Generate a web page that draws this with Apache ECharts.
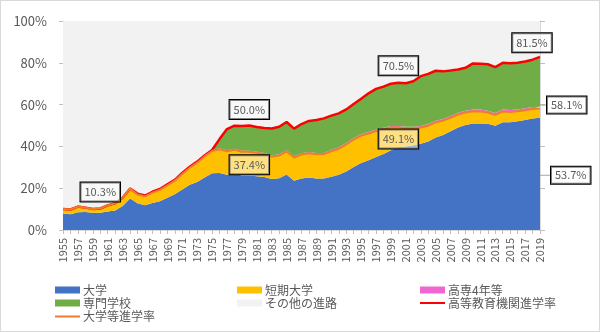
<!DOCTYPE html>
<html><head><meta charset="utf-8">
<script src="https://cdn.jsdelivr.net/npm/echarts@6/dist/echarts.min.js"></script>
<style>html,body{margin:0;padding:0;background:#fff}
#wrap{position:relative;width:600px;height:332px}
#c{width:600px;height:332px}
#frame{position:absolute;left:0;top:0;width:600px;height:332px;box-sizing:border-box;border:1px solid #D9D9D9;pointer-events:none}
</style>
</head><body><div id="wrap"><div id="c"></div><div id="frame"></div></div>
<script>
const years = ['1955','1956','1957','1958','1959','1960','1961','1962','1963','1964',
'1965','1966','1967','1968','1969','1970','1971','1972','1973','1974',
'1975','1976','1977','1978','1979','1980','1981','1982','1983','1984',
'1985','1986','1987','1988','1989','1990','1991','1992','1993','1994',
'1995','1996','1997','1998','1999','2000','2001','2002','2003','2004',
'2005','2006','2007','2008','2009','2010','2011','2012','2013','2014',
'2015','2016','2017','2018','2019'];

// 大学
const univ = [7.9,7.5,8.5,8.6,8.2,8.2,8.9,9.3,11.5,15.1,
12.8,11.8,12.9,13.8,15.4,17.1,19.4,21.6,23.0,25.1,
27.2,27.3,26.4,26.9,26.1,26.1,25.7,25.3,24.4,24.8,
26.5,23.6,24.7,25.1,24.7,24.6,25.5,26.4,28.0,30.1,
32.1,33.4,34.9,36.4,38.2,39.7,39.9,40.5,41.3,42.4,
44.2,45.5,47.2,49.1,50.2,50.9,51.0,50.8,49.9,51.5,
51.5,52.0,52.6,53.3,53.7];
// 短期大学
const junior = [2.2,2.3,2.7,2.1,1.9,2.1,2.9,3.5,3.9,4.8,
4.2,4.3,5.0,5.4,6.0,6.5,7.4,8.2,9.2,10.1,
10.6,11.3,11.3,11.5,11.3,11.3,11.2,11.0,10.7,10.8,
11.1,11.1,11.4,11.6,11.6,11.7,12.2,12.5,12.9,13.2,
13.1,12.8,12.4,11.8,10.9,9.4,8.7,8.1,7.7,7.5,
7.3,6.8,6.5,6.2,6.0,5.9,5.7,5.4,5.2,5.2,
5.0,4.8,4.7,4.6,4.4];
// 高専4年等
const kosen = [0,0,0,0,0,0,0,0,0,0,
0.4,0.4,0.4,0.4,0.4,0.4,0.5,0.5,0.5,0.5,
0.5,0.5,0.5,0.5,0.5,0.5,0.6,0.6,0.6,0.6,
0.6,0.6,0.6,0.6,0.6,0.6,0.7,0.7,0.7,0.7,
0.7,0.7,0.7,0.7,0.7,0.7,0.8,0.8,0.8,0.8,
0.8,0.8,0.8,0.8,0.8,0.8,0.9,0.9,0.9,0.9,
0.9,0.9,0.9,0.9,0.9];
// 専門学校
const senmon = [0,0,0,0,0,0,0,0,0,0,
0,0,0,0,0,0,0,0,0,0,
0,4.4,10.1,11.0,11.9,12.1,11.8,11.9,12.9,13.2,
13.5,13.2,14.0,14.9,15.7,16.5,16.3,16.2,16.1,16.3,
16.9,18.5,19.5,19.7,20.2,20.7,20.8,21.8,23.8,24.0,
23.9,22.8,21.8,20.7,20.6,22.1,21.9,22.2,21.9,22.4,
22.4,22.3,22.4,22.7,23.8];
// その他の進路
const other = [89.9,90.2,88.8,89.3,89.9,89.7,88.2,87.2,84.6,80.1,
82.6,83.5,81.7,80.4,78.2,76.0,72.7,69.7,67.3,64.3,
61.7,56.5,51.7,50.1,50.2,50.0,50.7,51.2,51.4,50.6,
48.3,51.5,49.3,47.8,47.4,46.6,45.3,44.2,42.3,39.7,
37.2,34.6,32.5,31.4,30.0,29.5,29.8,28.8,26.4,25.3,
23.8,24.1,23.7,23.2,22.4,20.3,20.5,20.7,22.1,20.0,
20.2,20.0,19.4,18.5,17.2];
// 高等教育機関進学率
const higher = [10.1,9.8,11.2,10.7,10.1,10.3,11.8,12.8,15.4,19.9,
17.4,16.5,18.3,19.6,21.8,24.0,27.3,30.3,32.7,35.7,
38.3,43.5,48.3,49.9,49.8,50.0,49.3,48.8,48.6,49.4,
51.7,48.5,50.7,52.2,52.6,53.4,54.7,55.8,57.7,60.3,
62.8,65.4,67.5,68.6,70.0,70.5,70.2,71.2,73.6,74.7,
76.2,75.9,76.3,76.8,77.6,79.7,79.5,79.3,77.9,80.0,
79.8,80.0,80.6,81.5,82.8];
// 大学等進学率
const univEtc = [10.1,9.8,11.2,10.7,10.1,10.3,11.8,12.8,15.4,19.9,
17.0,16.1,17.9,19.2,21.4,23.6,26.8,29.8,32.2,35.2,
37.8,38.6,37.7,38.4,37.4,37.4,36.9,36.3,35.1,35.6,
37.6,34.7,36.1,36.7,36.3,36.3,37.7,38.9,40.9,43.3,
45.2,46.2,47.3,48.2,49.1,49.1,48.6,48.6,49.0,49.9,
51.5,52.3,53.7,55.3,56.2,56.8,56.7,56.2,55.1,56.7,
56.5,56.8,57.3,57.9,58.1];

const yTicks = [0,20,40,60,80,100];
// data-label texts
const univLabelText = {64:'53.7%'};
const univEtcLabelText = {5:'10.3%', 25:'37.4%', 45:'49.1%', 64:'58.1%'};
const higherLabelText = {25:'50.0%', 45:'70.5%', 64:'81.5%'};

const FONT = '"Noto Sans CJK JP","Noto Sans",sans-serif';
const TXT = '#595959';
const BOX = {fontFamily:FONT, fontSize:11, color:TXT, backgroundColor:'rgba(255,255,255,0.5)',
  borderColor:'#000', borderWidth:1, padding:[3,4], lineHeight:13};

function boxLabel(text, pos, dist, offset){
  return Object.assign({show:true, position:pos, distance:dist, offset:offset||[0,0], formatter:text}, BOX);
}
function leaderLabel(text, len, offset){
  return {show:true, position:'right', distance:0, offset:offset,
    formatter:'{ln| }{bx|'+text+'}',
    rich:{ln:{width:len, height:1, backgroundColor:'#A6A6A6', fontSize:1, lineHeight:1, verticalAlign:'middle'},
          bx:Object.assign({verticalAlign:'middle'}, BOX)}};
}
const univLabelStyle = {64: t => leaderLabel(t, 11, [0,57.5])};
const univEtcLabelStyle = {5: t=>boxLabel(t,'top',7), 25: t=>boxLabel(t,'bottom',3.5), 45: t=>boxLabel(t,'bottom',2), 64: t=>leaderLabel(t,7,[0,-3.5])};
const higherLabelStyle = {25: t=>boxLabel(t,'top',6.5), 45: t=>boxLabel(t,'top',7.4), 64: t=>boxLabel(t,'top',4.7,[-8,0])};

function withLabels(values, texts, styles){
  return values.map((v,i)=> texts[i] ? {value:v, label:styles[i](texts[i])} : v);
}

function area(name, data, color){
  return {name, type:'line', stack:'a', data, color, lineStyle:{width:0}, areaStyle:{color, opacity:1},
    symbol:'circle', symbolSize:0, showSymbol:true, showAllSymbol:true, clip:false,
    emphasis:{disabled:true}, silent:true, animation:false};
}

const series = [
  area('大学', withLabels(univ, univLabelText, univLabelStyle), '#4472C4'),
  area('短期大学', junior, '#FFC000'),
  area('高専4年等', kosen, '#F066CF'),
  area('専門学校', senmon, '#70AD47'),
  area('その他の進路', other, '#F2F2F2'),
  {name:'高等教育機関進学率', type:'line', data:withLabels(higher, higherLabelText, higherLabelStyle), color:'#FF0000',
   lineStyle:{width:2.5, color:'#FF0000'}, symbol:'circle', symbolSize:0, showSymbol:true, showAllSymbol:true,
   clip:false, emphasis:{disabled:true}, silent:true, z:3},
  {name:'大学等進学率', type:'line', data:withLabels(univEtc, univEtcLabelText, univEtcLabelStyle), color:'#ED7D31',
   lineStyle:{width:2, color:'#ED7D31'}, symbol:'circle', symbolSize:0, showSymbol:true, showAllSymbol:true,
   clip:false, emphasis:{disabled:true}, silent:true, z:4}
];

const legendPos = [
  ['大学',55,284,'area'],['短期大学',237,284,'area'],['高専4年等',420,284,'area'],
  ['専門学校',55,297,'area'],['その他の進路',237,297,'area'],['高等教育機関進学率',420,297,'line'],
  ['大学等進学率',55,310.5,'line']
];
const legends = legendPos.map(([n,l,t,k])=>({data:[n], left:l, top:t, padding:0, icon:'rect',
  itemWidth:25, itemHeight:k==='area'?7:2, selectedMode:false,
  textStyle:{fontFamily:FONT, fontSize:12, color:TXT, padding:[0,0,0,-2]}}));

const chart = echarts.init(document.getElementById('c'));
chart.setOption({
  animation:false,
  backgroundColor:'#fff',
  textStyle:{fontFamily:FONT},
  grid:{left:63, right:60, top:21, bottom:102},
  legend:legends,
  xAxis:{type:'category', data:years, boundaryGap:false,
    axisLine:{lineStyle:{color:'#D9D9D9'}},
    axisTick:{show:true, interval:0, length:4, lineStyle:{color:'#BFBFBF'}},
    axisLabel:{interval:1, rotate:90, fontSize:11, color:TXT, margin:8, fontFamily:FONT},
    splitLine:{show:false}},
  yAxis:[
    {type:'value', min:yTicks[0], max:yTicks[yTicks.length-1], interval:20,
     axisLabel:{formatter:'{value}%', fontSize:13, color:TXT, margin:16, fontFamily:FONT},
     axisLine:{show:true, lineStyle:{color:'#D9D9D9'}},
     axisTick:{show:true, length:4, lineStyle:{color:'#BFBFBF'}},
     splitLine:{show:false}},
    {type:'value', position:'right', min:yTicks[0], max:yTicks[yTicks.length-1], interval:20,
     axisLabel:{show:false},
     axisLine:{show:true, lineStyle:{color:'#D9D9D9'}},
     axisTick:{show:true, length:5, lineStyle:{color:'#BFBFBF'}},
     splitLine:{show:false}}
  ],
  series
});
</script></body></html>
